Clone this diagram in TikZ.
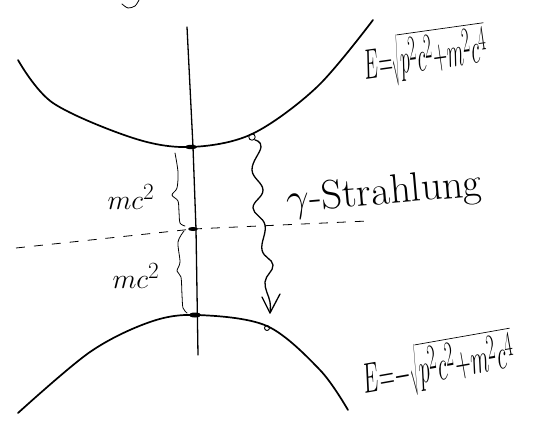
\documentclass[tikz,border=0pt]{standalone}
\usepackage{graphicx}
\begin{document}
\begin{tikzpicture}[x=1pt,y=-1pt,
  curve/.style={line width=1.7pt, line cap=round, line join=round},
  axisline/.style={line width=1.3pt, line cap=round},
  thinline/.style={line width=0.8pt, line cap=round, line join=round},
  wave/.style={line width=1.3pt, line cap=round, line join=round},
  dashline/.style={line width=0.8pt, dash pattern=on 9pt off 9pt},
  marker/.style={line width=0.9pt},
  blob/.style={fill=black},
  lbl/.style={inner sep=0pt, outer sep=0pt}]
\useasboundingbox (0,0) rectangle (558,428);

% fragment at the top edge
\draw[thinline] plot[smooth] coordinates {(122,4) (128,8) (135,6) (139,0)};

% upper branch  E = +sqrt(...)
\draw[curve] plot[smooth, tension=0.55] coordinates {(18,60) (53,103) (133,138) (190,147) (252,134) (317,87) (373,20)};

% lower branch  E = -sqrt(...)
\draw[curve] plot[smooth, tension=0.55] coordinates {(18,413) (90,352) (150,322) (197,315) (267,326) (320,370) (348,410)};

% vertical axis
\draw[axisline] (187,27) -- (193,147) -- (196,229) -- (198,355);

% crossing marks
\coordinate (top) at (191,147);
\coordinate (mid) at (193,229);
\coordinate (bot) at (195,315);
\fill[blob] (top) ellipse (6pt and 2.2pt);
\fill[blob] (mid) ellipse (5pt and 2pt);
\fill[blob] (bot) ellipse (6pt and 2.5pt);

% dashed zero line
\coordinate (dl) at (16,248);
\coordinate (dr) at (368,221);
\draw[dashline] (dl) -- (mid);
\draw[dashline] (mid) -- (dr);

% braces
\draw[thinline] plot[smooth] coordinates {(175,153) (178,172) (177,188) (172,195) (178,201) (179,212) (180,223) (185,226)};
\draw[thinline] plot[smooth] coordinates {(184,231) (178,242) (180,262) (177,271) (181,277) (182,295) (183,308) (187,313)};

% markers on the curves
\coordinate (p1) at (252,137);
\coordinate (p2) at (267,328);
\draw[marker] (p1) circle (3.2pt);
\draw[marker] (p2) circle (2.5pt);

% gamma radiation (wavy arrow)
\coordinate (tip) at (270,313);
\draw[wave] plot[smooth, tension=0.7] coordinates {(255,140) (261,147) (252,170) (263,190) (253,208) (265,225) (262,250) (273,265) (265,282) (270,302) (270,313)};
\draw[wave] (262,297) -- (tip) -- (280,294);

% labels
\node[lbl] (mc1) at (131,197) {\scalebox{1.12}{\Huge $mc^2$}};
\node[lbl] (mc2) at (136,276) {\scalebox{1.12}{\Huge $mc^2$}};
\node[lbl, rotate=5] (gam) at (384,194) {\scalebox{1.65}{\Huge $\gamma$-Strahlung}};
\node[lbl, rotate=8] (Eplus) at (425,56) {\scalebox{0.78}[1.7]{\Huge $E{=}\sqrt{p^2c^2{+}m^2c^4}$}};
\node[lbl, rotate=10] (Eminus) at (438,366) {\scalebox{0.86}[1.7]{\Huge $E{=}{-}\sqrt{p^2c^2{+}m^2c^4}$}};
\end{tikzpicture}
\end{document}
